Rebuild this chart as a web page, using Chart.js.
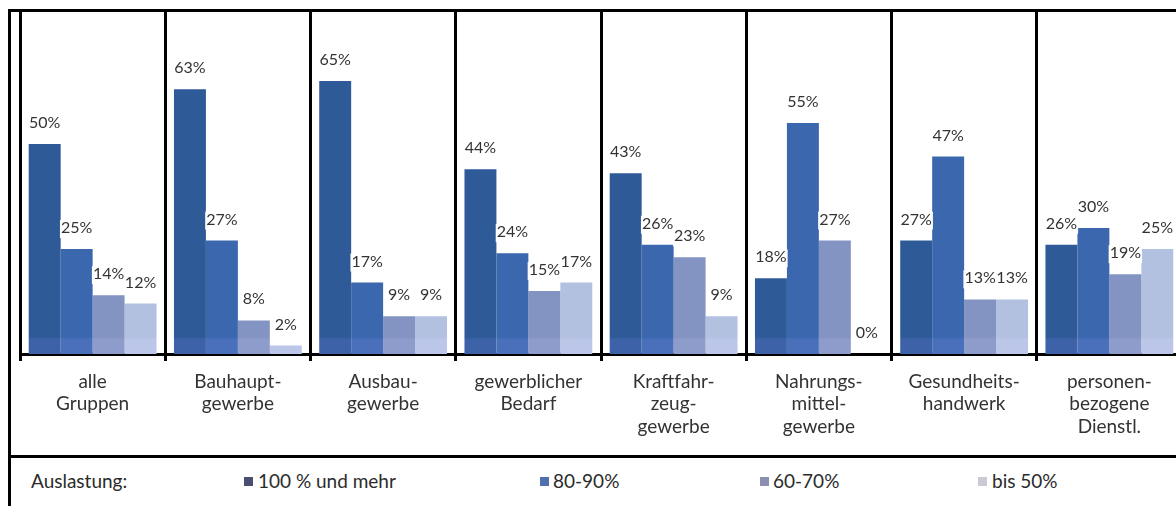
<!DOCTYPE html>
<html>
<head>
<meta charset="utf-8">
<script src="https://cdn.jsdelivr.net/npm/chart.js@4.4.0/dist/chart.umd.min.js"></script>
<style>
  html, body { margin: 0; padding: 0; background: #fff; overflow: hidden; }
  body { width: 1176px; height: 506px; position: relative; font-family: Lato, "Liberation Sans", sans-serif; color: #2b2b2b; }
  .rule { position: absolute; background: #000; }
  #wrap { position: absolute; left: 16px; top: 12px; width: 1172px; height: 443px; }
  .leg { position: absolute; top: 469px; font-size: 19px; line-height: 24px; white-space: nowrap; }
  .sq { position: absolute; top: 477px; width: 9px; height: 9px; }
</style>
</head>
<body>
<div class="rule" style="left:8px; top:9px; width:1200px; height:3px;"></div>
<div class="rule" style="left:8px; top:9px; width:3px; height:520px;"></div>
<div class="rule" style="left:8px; top:455px; width:1200px; height:3px;"></div>

<div id="wrap"><canvas id="chart"></canvas></div>

<div class="leg" style="left:31px;">Auslastung:</div>
<div class="sq" style="left:244px; background:#4a4f72;"></div>
<div class="leg" style="left:258px;">100 % und mehr</div>
<div class="sq" style="left:540px; background:#4f6fae;"></div>
<div class="leg" style="left:553px;">80-90%</div>
<div class="sq" style="left:760px; background:#8c8fb0;"></div>
<div class="leg" style="left:773px;">60-70%</div>
<div class="sq" style="left:978px; background:#c9cad3;"></div>
<div class="leg" style="left:992px;">bis 50%</div>

<script>
const groups = [
  ["alle", "Gruppen"],
  ["Bauhaupt-", "gewerbe"],
  ["Ausbau-", "gewerbe"],
  ["gewerblicher", "Bedarf"],
  ["Kraftfahr-", "zeug-", "gewerbe"],
  ["Nahrungs-", "mittel-", "gewerbe"],
  ["Gesundheits-", "handwerk"],
  ["personen-", "bezogene", "Dienstl."]
];
const seriesNames = ["100 % und mehr", "80-90%", "60-70%", "bis 50%"];
const full = [50, 63, 65, 44, 43, 18, 27, 26];
const high = [25, 27, 17, 24, 26, 55, 47, 30];
const mid = [14, 8, 9, 15, 23, 27, 13, 19];
const low = [12, 2, 9, 17, 9, 0, 13, 25];

// bar fill with the lighter strip along the base
function shade(base, strip) {
  return (ctx) => {
    const area = ctx.chart.chartArea;
    if (!area) return base;
    const g = ctx.chart.ctx.createLinearGradient(0, area.top, 0, area.bottom);
    g.addColorStop(0, base);
    g.addColorStop(0.95, base);
    g.addColorStop(0.958, strip);
    g.addColorStop(1, strip);
    return g;
  };
}

// percent labels above each bar, on a white patch
const valueLabels = {
  id: "valueLabels",
  afterDatasetsDraw(chart) {
    const c = chart.ctx;
    c.save();
    c.font = "16px Lato";
    c.textAlign = "center";
    c.textBaseline = "alphabetic";
    chart.data.datasets.forEach((ds, i) => {
      chart.getDatasetMeta(i).data.forEach((bar, j) => {
        const txt = ds.data[j] + "%";
        const w = c.measureText(txt).width;
        const y = bar.y - 16;
        c.fillStyle = "#fff";
        c.fillRect(bar.x - w / 2 - 1, y - 13, w + 2, 18);
        c.fillStyle = "#333";
        c.fillText(txt, bar.x, y);
      });
    });
    c.restore();
  }
};

const colors = [
  ["#2e5a98", "#3d62a8"],
  ["#3a67ad", "#4a70bb"],
  ["#8393c2", "#8e9ccc"],
  ["#b3c1e0", "#bcc6e8"]
];

new Chart(document.getElementById("chart"), {
  type: "bar",
  data: {
    labels: groups,
    datasets: [full, high, mid, low].map((d, i) => ({
      label: seriesNames[i],
      data: d,
      backgroundColor: shade(colors[i][0], colors[i][1]),
      borderWidth: 0,
      categoryPercentage: 0.88,
      barPercentage: 1.0
    }))
  },
  options: {
    responsive: true,
    maintainAspectRatio: false,
    animation: false,
    layout: { padding: { left: 4, right: 6, top: 0, bottom: 0 } },
    plugins: { legend: { display: false }, tooltip: { enabled: false } },
    scales: {
      x: {
        offset: true,
        grid: { offset: true, color: "#000", lineWidth: 3, tickLength: 7, drawOnChartArea: true },
        border: { display: true, color: "#000", width: 3 },
        ticks: {
          color: "#333",
          font: { family: "Lato", size: 19, lineHeight: 1.2 },
          padding: 9,
          maxRotation: 0,
          autoSkip: false
        },
        afterFit(scale) { scale.height = 101; }
      },
      y: { display: false, min: 0, max: 81.4 }
    }
  },
  plugins: [valueLabels]
});
</script>
</body>
</html>
